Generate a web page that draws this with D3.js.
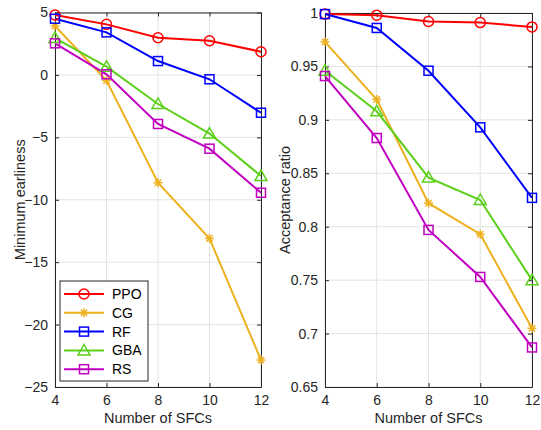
<!DOCTYPE html>
<html>
<head>
<meta charset="utf-8">
<script src="https://cdn.jsdelivr.net/npm/d3@7"></script>
<style>
  body { margin: 0; background: #fff; }
  svg { font-family: "Liberation Sans", Arial, sans-serif; }
  .grid line { stroke: #e3e3e3; stroke-width: 1; }
  .tick-label { fill: #262626; font-size: 14px; }
  .axis-title { fill: #262626; font-size: 14.5px; }
</style>
</head>
<body>
<svg width="541" height="430"></svg>
<script>
// chart data
const sfcs = [4, 6, 8, 10, 12];
const methods = ["PPO", "CG", "RF", "GBA", "RS"];

const earlinessPPO = [4.8, 4.05, 2.98, 2.74, 1.86];
const earlinessCG = [3.92, -0.45, -8.64, -13.1, -22.84];
const earlinessRF = [4.5, 3.41, 1.11, -0.35, -3.03];
const earlinessGBA = [2.95, 0.66, -2.33, -4.7, -8.1];
const earlinessRS = [2.53, 0.05, -3.93, -5.91, -9.44];

const acceptPPO = [0.999, 0.998, 0.992, 0.991, 0.987];
const acceptCG = [0.973, 0.919, 0.822, 0.793, 0.705];
const acceptRF = [0.999, 0.986, 0.946, 0.893, 0.827];
const acceptGBA = [0.946, 0.908, 0.846, 0.825, 0.750];
const acceptRS = [0.941, 0.883, 0.797, 0.753, 0.687];

const earlinessTicks = [5, 0, -5, -10, -15, -20, -25];
const acceptTicks = [1, 0.95, 0.9, 0.85, 0.8, 0.75, 0.7, 0.65];
const xTicks = [4, 6, 8, 10, 12];

const colors = {
  PPO: "#ff0000",
  CG: "#edb120",
  RF: "#0000ff",
  GBA: "#5bcf1a",
  RS: "#c000c0"
};
const shapes = {
  PPO: "circle",
  CG: "asterisk",
  RF: "square",
  GBA: "triangle",
  RS: "square"
};

const svg = d3.select("svg");

// draw a marker at (cx, cy)
function marker(g, shape, cx, cy, color) {
  const s = g.append("g").attr("transform", "translate(" + cx + "," + cy + ")")
    .attr("fill", "none").attr("stroke", color).attr("stroke-width", 1.5);
  if (shape === "circle") {
    s.append("circle").attr("r", 5);
  } else if (shape === "square") {
    s.append("rect").attr("x", -4.5).attr("y", -4.5).attr("width", 9).attr("height", 9);
  } else if (shape === "triangle") {
    s.append("path").attr("d", "M0,-6L6,4.5L-6,4.5Z");
  } else if (shape === "asterisk") {
    const r = 4.5;
    [0, 45, 90, 135].forEach(a => {
      const rad = a * Math.PI / 180;
      s.append("line")
        .attr("x1", -r * Math.cos(rad)).attr("y1", -r * Math.sin(rad))
        .attr("x2", r * Math.cos(rad)).attr("y2", r * Math.sin(rad));
    });
  }
}

function panel(opts) {
  const x = d3.scaleLinear().domain([4, 12]).range([opts.left, opts.right]);
  const y = d3.scaleLinear().domain(opts.domain).range([opts.bottom, opts.top]);
  const g = svg.append("g");

  // grid
  const grid = g.append("g").attr("class", "grid");
  grid.selectAll(".gx").data(xTicks).enter().append("line")
    .attr("x1", d => x(d)).attr("x2", d => x(d))
    .attr("y1", opts.top).attr("y2", opts.bottom);
  grid.selectAll(".gy").data(opts.ticks).enter().append("line")
    .attr("x1", opts.left).attr("x2", opts.right)
    .attr("y1", d => y(d)).attr("y2", d => y(d));

  // axes (ticks inside, box style)
  const tl = 4;
  const bottomAxis = d3.axisBottom(x).tickValues(xTicks).tickSizeInner(-tl).tickSizeOuter(0).tickPadding(8);
  const leftAxis = d3.axisLeft(y).tickValues(opts.ticks).tickSizeInner(-tl).tickSizeOuter(0).tickPadding(7)
    .tickFormat(opts.format);
  const topAxis = d3.axisTop(x).tickValues(xTicks).tickSizeInner(-tl).tickSizeOuter(0).tickFormat("");
  const rightAxis = d3.axisRight(y).tickValues(opts.ticks).tickSizeInner(-tl).tickSizeOuter(0).tickFormat("");

  [[bottomAxis, "translate(0," + opts.bottom + ")"],
   [leftAxis, "translate(" + opts.left + ",0)"],
   [topAxis, "translate(0," + opts.top + ")"],
   [rightAxis, "translate(" + opts.right + ",0)"]].forEach(a => {
    const ag = g.append("g").attr("transform", a[1]).call(a[0]);
    ag.selectAll(".domain").attr("stroke", "#262626");
    ag.selectAll(".tick line").attr("stroke", "#262626");
    ag.selectAll(".tick text").attr("class", "tick-label").attr("font-size", null).attr("font-family", null);
  });

  // series
  const line = d3.line().x((d, i) => x(sfcs[i])).y(d => y(d));
  opts.series.forEach((vals, k) => {
    const m = methods[k];
    g.append("path").attr("d", line(vals)).attr("fill", "none")
      .attr("stroke", colors[m]).attr("stroke-width", 2);
  });
  opts.series.forEach((vals, k) => {
    const m = methods[k];
    vals.forEach((v, i) => marker(g, shapes[m], x(sfcs[i]), y(v), colors[m]));
  });

  // titles
  g.append("text").attr("class", "axis-title").attr("text-anchor", "middle")
    .attr("x", (opts.left + opts.right) / 2).attr("y", 423).text("Number of SFCs");
  g.append("text").attr("class", "axis-title").attr("text-anchor", "middle")
    .attr("transform", "translate(" + opts.ylabelX + "," + (opts.top + opts.bottom) / 2 + ") rotate(-90)")
    .text(opts.ylabel);
  return g;
}

panel({
  left: 55, right: 261, top: 12.5, bottom: 387,
  domain: [-25, 5], ticks: earlinessTicks, format: d3.format("d"),
  series: [earlinessPPO, earlinessCG, earlinessRF, earlinessGBA, earlinessRS],
  ylabel: "Minimum earliness", ylabelX: 25
});

panel({
  left: 325, right: 532, top: 13, bottom: 387,
  domain: [0.65, 1], ticks: acceptTicks, format: d => String(d),
  series: [acceptPPO, acceptCG, acceptRF, acceptGBA, acceptRS],
  ylabel: "Acceptance ratio", ylabelX: 290
});

// legend
const legend = svg.append("g");
legend.append("rect").attr("x", 60).attr("y", 281).attr("width", 88).attr("height", 100)
  .attr("fill", "#fff").attr("stroke", "#262626").attr("stroke-width", 1);
methods.forEach((m, i) => {
  const ly = 294 + i * 18.8;
  legend.append("line").attr("x1", 64).attr("x2", 104).attr("y1", ly).attr("y2", ly)
    .attr("stroke", colors[m]).attr("stroke-width", 2);
  marker(legend, shapes[m], 84, ly, colors[m]);
  legend.append("text").attr("x", 112).attr("y", ly + 5).attr("font-size", 14)
    .attr("fill", "#000").text(m);
});
</script>
</body>
</html>
